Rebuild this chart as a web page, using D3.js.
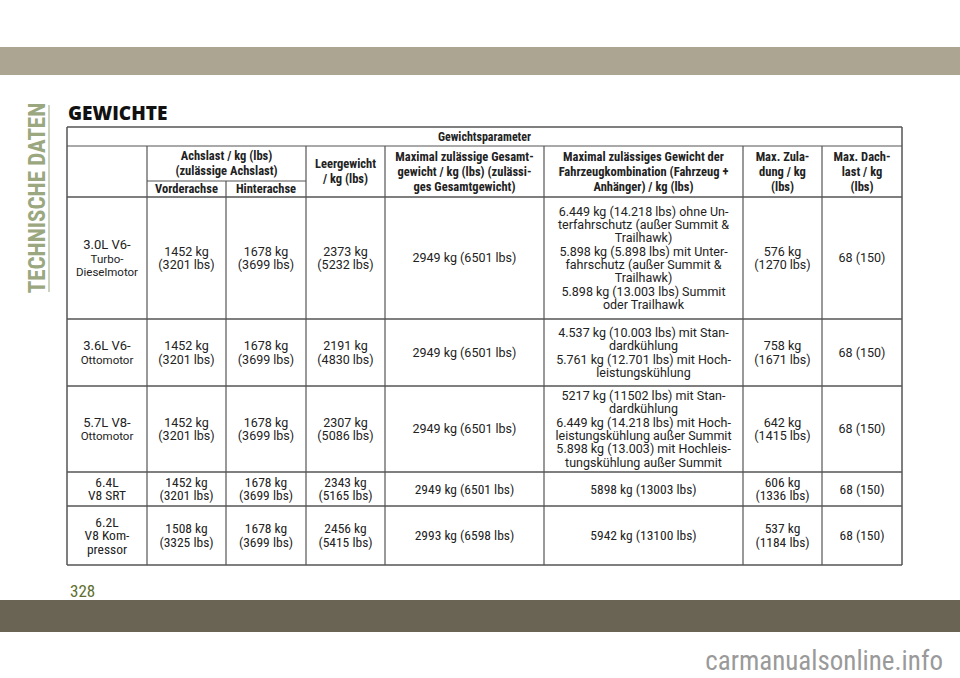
<!DOCTYPE html>
<html><head><meta charset="utf-8">
<script src="https://cdn.jsdelivr.net/npm/d3@7"></script>
<style>body{margin:0;background:#fff}</style></head>
<body><svg id="c" width="960" height="678"></svg>
<script>
const engines = [["3.0L V6-","Turbo-","Dieselmotor"],["3.6L V6-","Ottomotor"],["5.7L V8-","Ottomotor"],["6.4L","V8 SRT"],["6.2L","V8 Kom-","pressor"]];
const frontAxle = [["1452 kg","(3201 lbs)"],["1452 kg","(3201 lbs)"],["1452 kg","(3201 lbs)"],["1452 kg","(3201 lbs)"],["1508 kg","(3325 lbs)"]];
const rearAxle = [["1678 kg","(3699 lbs)"],["1678 kg","(3699 lbs)"],["1678 kg","(3699 lbs)"],["1678 kg","(3699 lbs)"],["1678 kg","(3699 lbs)"]];
const curbWeight = [["2373 kg","(5232 lbs)"],["2191 kg","(4830 lbs)"],["2307 kg","(5086 lbs)"],["2343 kg","(5165 lbs)"],["2456 kg","(5415 lbs)"]];
const grossWeight = [["2949 kg (6501 lbs)"],["2949 kg (6501 lbs)"],["2949 kg (6501 lbs)"],["2949 kg (6501 lbs)"],["2993 kg (6598 lbs)"]];
const combWeight = [
 ["6.449 kg (14.218 lbs) ohne Un-","terfahrschutz (außer Summit &","Trailhawk)","5.898 kg (5.898 lbs) mit Unter-","fahrschutz (außer Summit &","Trailhawk)","5.898 kg (13.003 lbs) Summit","oder Trailhawk"],
 ["4.537 kg (10.003 lbs) mit Stan-","dardkühlung","5.761 kg (12.701 lbs) mit Hoch-","leistungskühlung"],
 ["5217 kg (11502 lbs) mit Stan-","dardkühlung","6.449 kg (14.218 lbs) mit Hoch-","leistungskühlung außer Summit","5.898 kg (13.003) mit Hochleis-","tungskühlung außer Summit"],
 ["5898 kg (13003 lbs)"],["5942 kg (13100 lbs)"]];
const payload = [["576 kg","(1270 lbs)"],["758 kg","(1671 lbs)"],["642 kg","(1415 lbs)"],["606 kg","(1336 lbs)"],["537 kg","(1184 lbs)"]];
const roofLoad = [["68 (150)"],["68 (150)"],["68 (150)"],["68 (150)"],["68 (150)"]];
const headers = [["Achslast / kg (lbs)","(zulässige Achslast)"],["Leergewicht","/ kg (lbs)"],["Maximal zulässige Gesamt-","gewicht / kg (lbs) (zulässi-","ges Gesamtgewicht)"],["Maximal zulässiges Gewicht der","Fahrzeugkombination (Fahrzeug +","Anhänger) / kg (lbs)"],["Max. Zula-","dung / kg","(lbs)"],["Max. Dach-","last / kg","(lbs)"]];
const subHeaders = ["Vorderachse","Hinterachse"];

const svg = d3.select("#c");
const F = "'Liberation Sans Narrow','Roboto Condensed','DejaVu Sans Condensed',sans-serif";
const R = "Roboto,'Liberation Sans',sans-serif";
svg.append("rect").attr("x",0).attr("y",47).attr("width",960).attr("height",28).attr("fill","#aba591");
svg.append("rect").attr("x",0).attr("y",600).attr("width",960).attr("height",32).attr("fill","#6a6454");
svg.append("text").attr("transform","translate(45,198) rotate(-90)").attr("text-anchor","middle")
 .attr("font-family",F).attr("font-weight","bold").attr("font-size",23).attr("fill","#9aa77f").text("TECHNISCHE DATEN");
svg.append("line").attr("x1",49).attr("x2",49).attr("y1",105).attr("y2",292).attr("stroke","#9aa77f").attr("stroke-width",1);
svg.append("text").attr("x",68).attr("y",120).attr("font-family","'Open Sans',sans-serif").attr("font-weight",800).attr("font-size",19).attr("fill","#111").text("GEWICHTE");
svg.append("text").attr("x",70).attr("y",597).attr("font-family",F).attr("font-size",17).attr("fill","#5e6e2e").text("328");
svg.append("text").attr("x",943).attr("y",670).attr("text-anchor","end").attr("font-family",F).attr("font-size",27).attr("fill","#9a9a9a").text("carmanualsonline.info");

const colEdges = [67,147,226,306,385,544,743,822,902];
const rowEdges = [197,319,386,472,506,565];
const g = svg.append("g");
const ln = (x1,y1,x2,y2,w)=>g.append("line").attr("x1",x1).attr("y1",y1).attr("x2",x2).attr("y2",y2).attr("stroke","#555").attr("stroke-width",w||1.2);
function cell(lines,x0,x1,y0,y1,opt){
  const n=lines.length, cx=(x0+x1)/2, cy=(y0+y1)/2, lh=opt.lh;
  const t = g.append("text").attr("text-anchor","middle").attr("font-family",opt.font).attr("font-size",opt.size)
   .attr("font-weight",opt.bold?"bold":"normal").attr("fill","#222");
  lines.forEach((s,i)=>t.append("tspan").attr("x",cx).attr("y",cy+(i-(n-1)/2)*lh+opt.size*0.35).text(s));
}
const H={font:F,bold:true,size:12.5,lh:15};
ln(67,127,902,127,1.5); ln(67,565,902,565,1.5); ln(67,127,67,565,1.5); ln(902,127,902,565,1.5);
ln(67,146,902,146); ln(147,181,306,181);
rowEdges.slice(0,-1).forEach(y=>ln(67,y,902,y,1.3));
colEdges.slice(1,-1).forEach((x,i)=>{ ln(x,i===1?181:146,x,565); });
cell(["Gewichtsparameter"],67,902,127,146,{...H,size:12});
cell(headers[0],147,306,146,181,H);
cell(subHeaders.slice(0,1),147,226,181,197,H);
cell(subHeaders.slice(1),226,306,181,197,H);
headers.slice(1).forEach((h,i)=>cell(h,colEdges[i+3],colEdges[i+4],146,197,H));
const cols=[engines,frontAxle,rearAxle,curbWeight,grossWeight,combWeight,payload,roofLoad];
engines.forEach((_,r)=>cols.forEach((col,c)=>{
  const lines=col[r], narrow=r>=3;
  const g2=g.append("g");
  if(c===0){
    // first line larger, rest smaller
    const n=lines.length, cx=(colEdges[0]+colEdges[1])/2, cy=(rowEdges[r]+rowEdges[r+1])/2, lh=narrow?13.5:13.3;
    const t=g.append("text").attr("text-anchor","middle").attr("fill","#222").attr("font-family",narrow?F:R);
    lines.forEach((s,i)=>t.append("tspan").attr("x",cx).attr("y",cy+(i-(n-1)/2)*lh+4.5)
      .attr("font-size",narrow?13.5:(i===0?13:11.5)).text(s));
  } else {
    cell(lines,colEdges[c],colEdges[c+1],rowEdges[r],rowEdges[r+1],narrow?{font:F,size:13.5,lh:13.5}:{font:R,size:12.5,lh:13.3});
  }
}));
</script></body></html>
